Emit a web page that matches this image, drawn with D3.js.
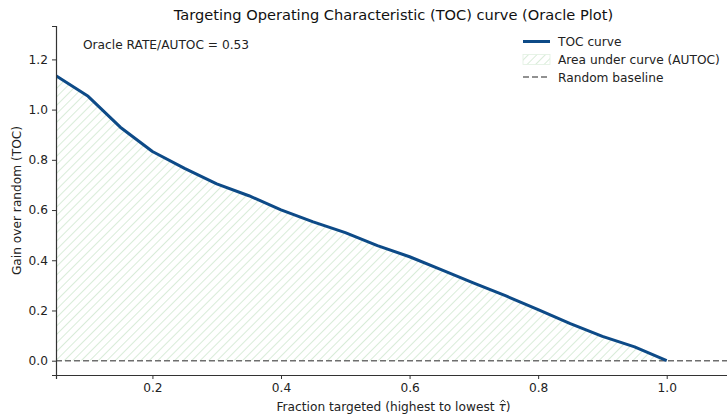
<!DOCTYPE html>
<html>
<head>
<meta charset="utf-8">
<script src="https://cdn.jsdelivr.net/npm/d3@7"></script>
<style>
  body { margin: 0; background: #fff; }
  svg { display: block; font-family: "DejaVu Sans", sans-serif; }
</style>
</head>
<body>
<svg id="chart" width="727" height="415"></svg>
<script>
// Fraction of population targeted (sorted by predicted effect)
const fractions = [0.05, 0.10, 0.15, 0.20, 0.25, 0.30, 0.35, 0.40, 0.45, 0.50,
                   0.55, 0.60, 0.65, 0.70, 0.75, 0.80, 0.85, 0.90, 0.95, 1.00];
// TOC value (gain over random) at each fraction
const tocValues = [1.135, 1.053, 0.930, 0.833, 0.766, 0.704, 0.657, 0.601, 0.553, 0.510,
                   0.458, 0.414, 0.362, 0.309, 0.258, 0.203, 0.148, 0.097, 0.055, 0.000];
const xTicks = [0.2, 0.4, 0.6, 0.8, 1.0];
const yTicks = [0.0, 0.2, 0.4, 0.6, 0.8, 1.0, 1.2];
const autocValue = 0.53;

const FS = 12.2;
const svg = d3.select("#chart");
const mLeft = 56, mRight = 731, mTop = 26, mBottom = 375;

const x = d3.scaleLinear().domain([0.05, 1.1]).range([mLeft, mRight]);
const y = d3.scaleLinear().domain([-0.057, 1.333]).range([mBottom, mTop]);

const points = fractions.map((f, i) => ({ f, v: tocValues[i] }));

// Diagonal hatch pattern for the area under the curve
const defs = svg.append("defs");
const pat = defs.append("pattern")
  .attr("id", "hatch")
  .attr("patternUnits", "userSpaceOnUse")
  .attr("width", 6).attr("height", 6)
  .attr("patternTransform", "rotate(45)");
pat.append("line")
  .attr("x1", 0).attr("y1", 0).attr("x2", 0).attr("y2", 6)
  .attr("stroke", "#cfe7cf").attr("stroke-width", 1.6);

defs.append("clipPath").attr("id", "plotClip")
  .append("rect").attr("x", mLeft).attr("y", mTop)
  .attr("width", mRight - mLeft).attr("height", mBottom - mTop);

const plot = svg.append("g").attr("clip-path", "url(#plotClip)");

const area = d3.area()
  .x(d => x(d.f))
  .y0(y(0))
  .y1(d => y(d.v));

plot.append("path")
  .datum(points)
  .attr("d", area)
  .attr("fill", "url(#hatch)");

// Random baseline
plot.append("line")
  .attr("x1", x(0.05)).attr("x2", x(1.1))
  .attr("y1", y(0)).attr("y2", y(0))
  .attr("stroke", "#6e6e6e").attr("stroke-width", 1.6)
  .attr("stroke-dasharray", "6,3");

// TOC curve
const line = d3.line().x(d => x(d.f)).y(d => y(d.v));
plot.append("path")
  .datum(points)
  .attr("d", line)
  .attr("fill", "none")
  .attr("stroke", "#0d4a87")
  .attr("stroke-width", 3)
  .attr("stroke-linejoin", "round");

// Axes
const xAxis = d3.axisBottom(x).tickValues(xTicks).tickFormat(d3.format(".1f")).tickSizeOuter(0).tickSize(4).tickPadding(4);
const yAxis = d3.axisLeft(y).tickValues(yTicks).tickFormat(d3.format(".1f")).tickSizeOuter(0).tickSize(4).tickPadding(4);

const gx = svg.append("g").attr("transform", `translate(0,${mBottom})`).call(xAxis);
const gy = svg.append("g").attr("transform", `translate(${mLeft},0)`).call(yAxis);
[gx, gy].forEach(g => {
  g.selectAll("text").attr("font-size", FS).attr("fill", "#222").attr("font-family", "DejaVu Sans, sans-serif");
  g.selectAll("line").attr("stroke", "#333").attr("stroke-width", 1);
  g.select(".domain").attr("stroke", "#333").attr("stroke-width", 1.2);
});

// Title and axis labels
svg.append("text")
  .attr("x", (mLeft + mRight) / 2).attr("y", 20)
  .attr("text-anchor", "middle").attr("font-size", 14.6).attr("fill", "#111")
  .text("Targeting Operating Characteristic (TOC) curve (Oracle Plot)");

// x label with an italic tau; the hat accent is drawn as a small stroke
const xl = svg.append("text")
  .attr("x", (mLeft + mRight) / 2).attr("y", 411)
  .attr("text-anchor", "middle").attr("font-size", FS).attr("fill", "#222");
const prefix = "Fraction targeted (highest to lowest ";
xl.append("tspan").text(prefix);
xl.append("tspan").attr("font-style", "italic").text("τ");
xl.append("tspan").text(")");
const node = xl.node();
const tauPos = node.getStartPositionOfChar(prefix.length);
const tauW = node.getSubStringLength(prefix.length, 1);
const hx = tauPos.x + tauW / 2 + 0.8, hy = 411 - 10.5;
svg.append("path")
  .attr("d", `M${hx - 2.2},${hy + 1.8}L${hx},${hy - 0.6}L${hx + 2.2},${hy + 1.8}`)
  .attr("fill", "none").attr("stroke", "#222").attr("stroke-width", 0.9);

svg.append("text")
  .attr("transform", `translate(21,${(mTop + mBottom) / 2}) rotate(-90)`)
  .attr("text-anchor", "middle").attr("font-size", FS).attr("fill", "#222")
  .text("Gain over random (TOC)");

// Annotation with the oracle AUTOC
svg.append("text")
  .attr("x", 83).attr("y", 49)
  .attr("font-size", FS).attr("fill", "#222")
  .text(`Oracle RATE/AUTOC = ${autocValue.toFixed(2)}`);

// Legend
const legend = svg.append("g").attr("transform", "translate(523,0)");
const legendItems = ["TOC curve", "Area under curve (AUTOC)", "Random baseline"];
const rowY = [41.5, 59.5, 77];
legend.append("line").attr("x1", 0).attr("x2", 27).attr("y1", rowY[0]).attr("y2", rowY[0])
  .attr("stroke", "#0d4a87").attr("stroke-width", 3);
legend.append("rect").attr("x", 0).attr("y", rowY[1] - 5).attr("width", 27).attr("height", 10)
  .attr("fill", "url(#hatch)").attr("stroke", "#e2f0e2").attr("stroke-width", 0.8);
legend.append("line").attr("x1", 0).attr("x2", 27).attr("y1", rowY[2]).attr("y2", rowY[2])
  .attr("stroke", "#6e6e6e").attr("stroke-width", 1.6).attr("stroke-dasharray", "6,3");
legend.selectAll("text.item").data(legendItems).join("text")
  .attr("class", "item")
  .attr("x", 35).attr("y", (d, i) => rowY[i] + 4.5)
  .attr("font-size", FS).attr("fill", "#222")
  .text(d => d);
</script>
</body>
</html>
